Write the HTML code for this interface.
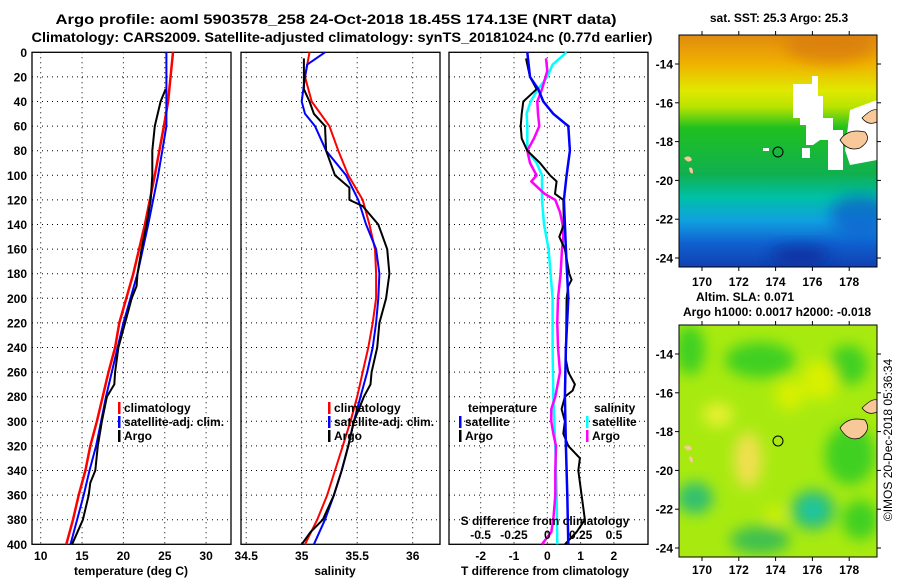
<!DOCTYPE html>
<html><head><meta charset="utf-8"><style>
html,body{margin:0;padding:0;background:#fff;}
svg{display:block;font-family:"Liberation Sans",Arial,sans-serif;font-weight:bold;}
</style></head><body>
<svg id="chart" width="900" height="580" viewBox="0 0 900 580" xmlns="http://www.w3.org/2000/svg">
<defs>
<linearGradient id="sstGrad" x1="0" y1="0" x2="0" y2="1">
<stop offset="0" stop-color="#e08a10"/><stop offset="0.12" stop-color="#f0b000"/>
<stop offset="0.24" stop-color="#e0e800"/><stop offset="0.31" stop-color="#b8e400"/>
<stop offset="0.40" stop-color="#20c020"/><stop offset="0.60" stop-color="#10b050"/>
<stop offset="0.70" stop-color="#00c0a8"/><stop offset="0.80" stop-color="#10a0e0"/>
<stop offset="0.90" stop-color="#1060d0"/><stop offset="1" stop-color="#1040b0"/>
</linearGradient>
<filter id="blur" x="-50%" y="-50%" width="200%" height="200%"><feGaussianBlur stdDeviation="7"/></filter>
<clipPath id="m1clip"><rect x="679" y="35" width="198" height="232"/></clipPath>
<clipPath id="m2clip"><rect x="679" y="325" width="198" height="232"/></clipPath>
</defs>
<text x="336" y="24" text-anchor="middle" font-size="14" textLength="561" lengthAdjust="spacingAndGlyphs">Argo profile: aoml 5903578_258 24-Oct-2018 18.45S 174.13E (NRT data)</text>
<text x="342" y="42" text-anchor="middle" font-size="14" textLength="621" lengthAdjust="spacingAndGlyphs">Climatology: CARS2009. Satellite-adjusted climatology: synTS_20181024.nc (0.77d earlier)</text>

<g id="maps">
<g clip-path="url(#m1clip)">
<rect x="679" y="35" width="198" height="232" fill="url(#sstGrad)"/>
<ellipse cx="830" cy="45" rx="45" ry="18" fill="#d87a08" opacity="0.7" filter="url(#blur)"/>
<ellipse cx="860" cy="215" rx="30" ry="20" fill="#1050c8" opacity="0.6" filter="url(#blur)"/>
<ellipse cx="800" cy="255" rx="30" ry="10" fill="#102090" opacity="0.6" filter="url(#blur)"/>
<path d="M793 84 L812 84 L812 76 L818 76 L818 96 L823 96 L823 118 L833 118 L833 130 L843 130 L843 170 L828 170 L828 140 L820 140 L813 145 L806 145 L806 125 L800 125 L800 118 L793 118 Z" fill="#fff"/>
<path d="M850 110 L877 100 L877 160 L850 165 L845 150 Z" fill="#fff"/>
<rect x="802" y="148" width="8" height="10" fill="#fff"/>
<rect x="763" y="148" width="6" height="3" fill="#fff"/>
<path d="M840 140 Q848 128 865 132 Q872 140 860 148 Q848 152 840 140Z" fill="#f8c898" stroke="#000" stroke-width="0.7"/>
<path d="M862 118 Q872 108 877 110 L877 122 Q868 126 862 118Z" fill="#f8c898" stroke="#000" stroke-width="0.7"/>
<path d="M684 158 Q690 154 692 160 Q688 164 684 158Z" fill="#f8c898"/>
<path d="M689 168 Q693 166 693 173 Q690 175 689 168Z" fill="#f8c898"/>
<circle cx="778" cy="152" r="5" fill="none" stroke="#000" stroke-width="1"/>
</g>
<rect x="679" y="35" width="198" height="232" fill="none" stroke="#000" stroke-width="1"/>
<g clip-path="url(#m2clip)">
<rect x="679" y="325" width="198" height="232" fill="#a8ea10"/>
<g filter="url(#blur)">
<ellipse cx="690" cy="350" rx="15" ry="25" fill="#40d020"/>
<ellipse cx="760" cy="360" rx="35" ry="18" fill="#40d020"/>
<ellipse cx="848" cy="365" rx="20" ry="20" fill="#40d020"/>
<ellipse cx="850" cy="455" rx="25" ry="30" fill="#40d020"/>
<ellipse cx="790" cy="395" rx="15" ry="15" fill="#d8f000"/>
<ellipse cx="820" cy="380" rx="18" ry="20" fill="#d8f000"/>
<ellipse cx="718" cy="415" rx="15" ry="12" fill="#e8f030"/>
<ellipse cx="748" cy="460" rx="14" ry="28" fill="#f0e050"/>
<ellipse cx="813" cy="510" rx="22" ry="20" fill="#30c070"/>
<ellipse cx="813" cy="510" rx="10" ry="9" fill="#10c8b0"/>
<ellipse cx="695" cy="498" rx="18" ry="16" fill="#30c070"/>
<ellipse cx="760" cy="540" rx="30" ry="14" fill="#40c050"/>
<ellipse cx="860" cy="520" rx="18" ry="20" fill="#40d020"/>
<ellipse cx="775" cy="515" rx="10" ry="8" fill="#d8f000"/>
</g>
<path d="M840 428 Q848 416 865 420 Q872 430 860 438 Q848 442 840 428Z" fill="#f8c898" stroke="#000" stroke-width="0.7"/>
<path d="M862 408 Q872 398 877 400 L877 412 Q868 416 862 408Z" fill="#f8c898" stroke="#000" stroke-width="0.7"/>
<path d="M684 447 Q690 443 692 449 Q688 453 684 447Z" fill="#f8c898"/>
<path d="M689 457 Q693 455 693 462 Q690 464 689 457Z" fill="#f8c898"/>
<circle cx="778" cy="441" r="5" fill="none" stroke="#000" stroke-width="1"/>
</g>
<rect x="679" y="325" width="198" height="232" fill="none" stroke="#000" stroke-width="1"/>
<text x="779" y="22" text-anchor="middle" font-size="12">sat. SST: 25.3 Argo: 25.3</text>
<text x="745" y="301" text-anchor="middle" font-size="12">Altim. SLA: 0.071</text>
<text x="777" y="316" text-anchor="middle" font-size="12">Argo h1000: 0.0017 h2000: -0.018</text>
<text transform="translate(892,440) rotate(-90)" text-anchor="middle" font-size="12" font-weight="normal">©IMOS 20-Dec-2018 05:36:34</text>
</g>
</svg>
<script>
// ---- depth axis ----
const depthTicks = [0,20,40,60,80,100,120,140,160,180,200,220,240,260,280,300,320,340,360,380,400];
// ---- temperature panel ----
const tempTicks = [10,15,20,25,30];
const climTDepth = [0,40,60,100,140,180,220,240,260,280,300,320,340,360,380,400];
const climT = [26.0,25.4,24.9,23.8,22.6,21.2,19.5,19.0,18.2,17.5,16.8,16.0,15.4,14.6,13.9,13.1];
const satTDepth = [0,60,80,100,140,180,220,240,260,280,300,320,340,360,380,400];
const satT = [25.2,25.2,24.7,24.2,23.0,21.7,20.0,19.3,18.6,17.9,17.3,16.7,15.9,15.2,14.4,13.6];
const argoTDepth = [30,40,60,80,100,120,140,160,180,190,200,220,240,260,270,280,300,320,340,350,360,380,400];
const argoT = [25.1,24.5,23.8,23.5,23.5,23.3,22.8,22.2,21.7,21.6,21.0,20.2,19.4,19.0,18.9,18.0,17.4,16.9,16.6,16.0,15.8,15.1,13.8];
// ---- salinity panel ----
const salTicks = [34.5,35,35.5,36];
const climSDepth = [0,20,40,60,80,100,120,140,160,180,200,220,240,260,280,300,320,340,360,380,400];
const climS = [35.07,35.03,35.09,35.25,35.33,35.42,35.55,35.61,35.66,35.67,35.67,35.64,35.60,35.55,35.50,35.44,35.37,35.30,35.23,35.14,35.03];
const satSDepth = [0,10,20,40,50,60,80,100,120,140,160,180,200,220,240,260,280,300,320,340,360,380,400];
const satS = [35.21,35.05,35.03,35.00,35.03,35.12,35.22,35.40,35.51,35.58,35.67,35.70,35.69,35.67,35.64,35.59,35.53,35.47,35.42,35.36,35.29,35.21,35.11];
const argoSDepth = [5,30,40,50,60,80,100,110,120,125,140,160,180,200,220,240,260,270,280,300,320,340,360,380,390,400];
const argoS = [35.02,35.02,35.07,35.11,35.21,35.22,35.30,35.43,35.43,35.55,35.69,35.77,35.79,35.76,35.70,35.68,35.63,35.62,35.56,35.47,35.42,35.36,35.29,35.19,35.08,35.00];
// ---- difference panel ----
const tDiffTicks = [-2,-1,0,1,2];
const sDiffTicks = [-0.5,-0.25,0,0.25,0.5];
const satTdDepth = [0,20,30,40,50,60,80,100,120,160,200,240,280,320,360,400];
const satTd = [-0.6,-0.52,-0.27,-0.12,0.18,0.63,0.68,0.58,0.5,0.56,0.63,0.56,0.53,0.56,0.6,0.63];
const argoTdDepth = [5,20,30,35,40,50,60,70,80,90,100,105,115,120,140,150,160,180,185,190,200,250,260,270,275,280,290,300,310,320,330,340,380,390,400];
const argoTd = [-0.64,-0.52,-0.32,-0.52,-0.72,-0.77,-0.8,-0.77,-0.6,-0.22,0.08,0.28,0.23,0.48,0.5,0.36,0.53,0.66,0.73,0.63,0.58,0.56,0.63,0.83,0.76,0.53,0.43,0.53,0.48,0.63,0.98,0.93,1.13,0.88,0.53];
const satSdDepth = [0,10,20,30,40,50,60,70,80,90,100,120,140,160,180,200,240,280,320,360,400];
const satSd = [0.145,0.04,0,-0.07,-0.125,-0.155,-0.15,-0.15,-0.15,-0.08,-0.04,-0.04,-0.025,0.01,0.025,0.04,0.04,0.045,0.06,0.07,0.075];
const argoSdDepth = [5,15,30,40,50,60,70,80,90,100,105,115,120,130,140,150,160,180,200,220,240,260,280,290,300,310,320,340,360,380,390,400];
const argoSd = [-0.01,0,-0.04,-0.075,-0.07,-0.06,-0.1,-0.15,-0.13,-0.08,-0.12,-0.02,0.06,0.095,0.115,0.12,0.11,0.1,0.08,0.075,0.08,0.095,0.06,0.03,0.03,0.045,0.065,0.06,0.06,0.045,0.03,-0.04];
// ---- map axes ----
const lonTicks = [170,172,174,176,178];
const latTicks = [-14,-16,-18,-20,-22,-24];

const NS = 'http://www.w3.org/2000/svg';
const svg = document.getElementById('chart');
function mk(tag, attrs, parent){
  const e = document.createElementNS(NS, tag);
  for (const k in attrs) e.setAttribute(k, attrs[k]);
  (parent || svg).appendChild(e);
  return e;
}
const Y0 = 52.3, YS = 1.23;
const yD = d => Y0 + d * YS;
const xT = t => 40.7 + (t - 10) * 8.27;
const xS = s => 301.7 + (s - 35) * 111;
const xTd = t => 547.3 + t * 33.3;
const xSd = s => 547.3 + s * 133.3;
const panels = [
  {name:'temperature-panel', x0:32, x1:231, ticks:tempTicks, fx:xT, label:'temperature (deg C)', lx:131},
  {name:'salinity-panel', x0:241, x1:440, ticks:salTicks, fx:xS, label:'salinity', lx:335},
  {name:'difference-panel', x0:449, x1:648, ticks:tDiffTicks, fx:xTd, label:'T difference from climatology', lx:545}
];
panels.forEach((p, i) => {
  const g = mk('g', {});
  
  
  depthTicks.forEach(d => {
    if (d === 0 || d === 400) return;
    const l = mk('line', {x1:p.x0, x2:p.x1, y1:yD(d), y2:yD(d), stroke:'#000', 'stroke-width':1, 'stroke-dasharray':'1,4'}, g);
    
    
  });
  p.ticks.forEach(t => {
    const x = p.fx(t);
    if (x > p.x0 + 2 && x < p.x1 - 2) {
      const l = mk('line', {x1:x, x2:x, y1:yD(0), y2:yD(400), stroke:'#000', 'stroke-width':1, 'stroke-dasharray':'1,4'}, g);
      
      
    }
    const tx = mk('text', {x:x, y:560, 'text-anchor':'middle', 'font-size':12}, g);
    tx.textContent = String(t);
    
    
  });
  const lab = mk('text', {x:p.lx, y:575, 'text-anchor':'middle', 'font-size':12}, g);
  lab.textContent = p.label;
  
  
  const fr = mk('rect', {x:p.x0, y:Y0, width:p.x1 - p.x0, height:400 * YS, fill:'none', stroke:'#000', 'stroke-width':1.3}, g);
  
  
});
depthTicks.forEach(d => {
  const t = mk('text', {x:27, y:yD(d) + 4.5, 'text-anchor':'end', 'font-size':12});
  t.textContent = String(d);
  
  
});
function line(depths, vals, fx, color, w, name){
  const pts = depths.map((d, i) => fx(vals[i]).toFixed(1) + ',' + yD(d).toFixed(1)).join(' ');
  const pl = mk('polyline', {points:pts, fill:'none', stroke:color, 'stroke-width':w, 'stroke-linejoin':'round'});
  
  
}
line(climTDepth, climT, xT, '#f00', 2.5, 'climatology-temperature-line');
line(satTDepth, satT, xT, '#00f', 2, 'satellite-temperature-line');
line(argoTDepth, argoT, xT, '#000', 2, 'argo-temperature-line');
line(climSDepth, climS, xS, '#f00', 2, 'climatology-salinity-line');
line(satSDepth, satS, xS, '#00f', 2, 'satellite-salinity-line');
line(argoSDepth, argoS, xS, '#000', 2, 'argo-salinity-line');
line(satSdDepth, satSd, xSd, '#0ff', 2.5, 'satellite-salinity-diff-line');
line(argoSdDepth, argoSd, xSd, '#f0f', 2.5, 'argo-salinity-diff-line');
line(argoTdDepth, argoTd, xTd, '#000', 2, 'argo-temperature-diff-line');
line(satTdDepth, satTd, xTd, '#00f', 2.5, 'satellite-temperature-diff-line');

function legendEntry(x, y, color, label){
  const g = mk('g', {});
  
  
  mk('rect', {x:x, y:y - 10, width:2.5, height:12, fill:color}, g);
  const t = mk('text', {x:x + 6, y:y, 'font-size':12}, g);
  t.textContent = label;
}
legendEntry(118, 412, '#f00', 'climatology');
legendEntry(118, 426, '#00f', 'satellite-adj. clim.');
legendEntry(118, 440, '#000', 'Argo');
legendEntry(328, 412, '#f00', 'climatology');
legendEntry(328, 426, '#00f', 'satellite-adj. clim.');
legendEntry(328, 440, '#000', 'Argo');
const lt = mk('text', {x:468, y:412, 'font-size':12}); lt.textContent = 'temperature';


const ls = mk('text', {x:594, y:412, 'font-size':12}); ls.textContent = 'salinity';


legendEntry(459, 426, '#00f', 'satellite');
legendEntry(459, 440, '#000', 'Argo');
legendEntry(586, 426, '#0ff', 'satellite');
legendEntry(586, 440, '#f0f', 'Argo');
const sdt = mk('text', {x:545, y:525, 'text-anchor':'middle', 'font-size':12});
sdt.textContent = 'S difference from climatology';


sDiffTicks.forEach(s => {
  const t = mk('text', {x:xSd(s), y:539, 'text-anchor':'middle', 'font-size':12});
  t.textContent = String(s);
  
  
});
// map axes
const xLon = l => 702 + (l - 170) * 18.4;
[{top:35, bot:267, lat0:64, lab:286},{top:325, bot:557, lat0:354, lab:574}].forEach((m, mi) => {
  lonTicks.forEach(l => {
    mk('line', {x1:xLon(l), x2:xLon(l), y1:m.bot, y2:m.bot + 4, stroke:'#000'});
    mk('line', {x1:xLon(l), x2:xLon(l), y1:m.top, y2:m.top - 4, stroke:'#000'});
    const t = mk('text', {x:xLon(l), y:m.lab, 'text-anchor':'middle', 'font-size':12});
    t.textContent = String(l);
    
    
  });
  latTicks.forEach(la => {
    const y = m.lat0 + (-14 - la) * 19.4;
    mk('line', {x1:675, x2:679, y1:y, y2:y, stroke:'#000'});
    mk('line', {x1:877, x2:881, y1:y, y2:y, stroke:'#000'});
    const t = mk('text', {x:673, y:y + 4.5, 'text-anchor':'end', 'font-size':12});
    t.textContent = String(la);
    
    
  });
});
</script>
</body></html>
